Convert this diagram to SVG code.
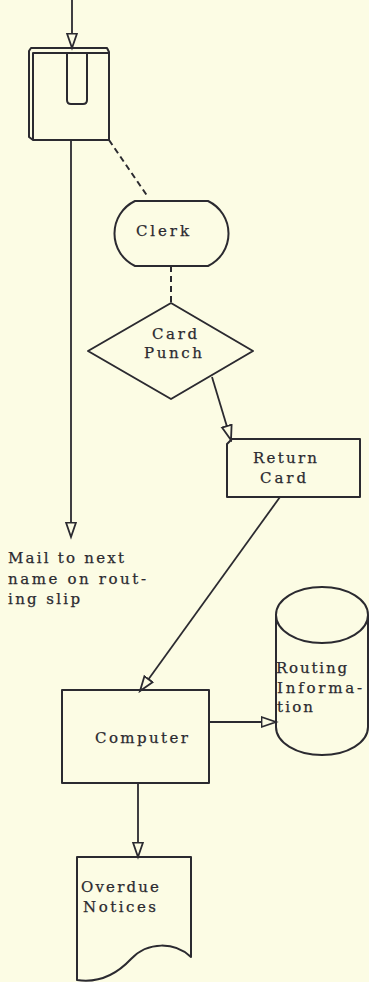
<svg xmlns="http://www.w3.org/2000/svg" width="369" height="982" viewBox="0 0 369 982">
  <style>
    .shape { fill: none; stroke: #2b2a30; stroke-width: 2; stroke-linejoin: round; }
    .line { fill: none; stroke: #2b2a30; stroke-width: 1.8; }
    .dash { fill: none; stroke: #2b2a30; stroke-width: 2; stroke-dasharray: 6 4; }
    .arrow { marker-end: url(#open); }
    text { font-family: "DejaVu Serif", "Liberation Serif", serif; font-size: 15px; fill: #2b2a30; stroke: #2b2a30; stroke-width: 0.25; }
  </style>
  <defs>
    <marker id="open" markerUnits="userSpaceOnUse" markerWidth="18" markerHeight="14" refX="15.5" refY="6" orient="auto">
      <path d="M1,1 L15.5,6 L1,11 Z" fill="#fcfce4" stroke="#2b2a30" stroke-width="1.8" stroke-linejoin="miter"/>
    </marker>
  </defs>
  <rect width="369" height="982" fill="#fcfce4"/>

  <g id="connectors">
    <path class="line arrow" d="M72,0 L72,48"/>
    <path class="line arrow" d="M71,140 L71,537"/>
    <path class="dash" d="M109,140 L148,197"/>
    <path class="dash" d="M171,266 L171,303"/>
    <path class="line arrow" d="M212,377 L231,440"/>
    <path class="line arrow" d="M280,497 L140,691"/>
    <path class="line arrow" d="M209,722 L276,722"/>
    <path class="line arrow" d="M138,783 L138,857"/>
  </g>

  <g id="card-reader">
    <path class="shape" d="M31,48 L107,48 L109,52 L109,140 L33,140 L29,137 L29,51 Z"/>
    <path class="shape" d="M33,140 L33,53 L109,53"/>
    <path class="shape" d="M67,53 V100 Q67,104 71,104 H83 Q87,104 87,100 V53"/>
  </g>

  <g id="mail-note">
    <text x="8" y="563" textLength="116">Mail to next</text>
    <text x="8" y="584" textLength="138">name on rout-</text>
    <text x="8" y="604" textLength="72">ing slip</text>
  </g>

  <g id="clerk">
    <path class="shape" d="M135,201 H208 A36,36 0 0 1 208,266 H135 A36,36 0 0 1 135,201 Z"/>
    <text x="136" y="236" textLength="53">Clerk</text>
  </g>

  <g id="card-punch">
    <path class="shape" d="M171,303 L253,351 L171,399 L88,351 Z"/>
    <text x="152" y="339" textLength="45">Card</text>
    <text x="144" y="358" textLength="58">Punch</text>
  </g>

  <g id="return-card">
    <path class="shape" d="M232,439 H360 V497 H227 V444 Z"/>
    <text x="253" y="463" textLength="64">Return</text>
    <text x="260" y="483" textLength="46">Card</text>
  </g>

  <g id="computer">
    <rect class="shape" x="62" y="690" width="147" height="93"/>
    <text x="95" y="743" textLength="93">Computer</text>
  </g>

  <g id="routing-information">
    <ellipse class="shape" cx="322" cy="615" rx="46" ry="28"/>
    <path class="shape" d="M276,615 V727 A46,28 0 0 0 368,727 V615"/>
    <text x="276" y="673" textLength="71">Routing</text>
    <text x="277" y="693" textLength="85">Informa-</text>
    <text x="277" y="712" textLength="36">tion</text>
  </g>

  <g id="overdue-notices">
    <path class="shape" d="M77,857 H191 V957 C175,942 148,941 131,959 C116,975 97,983 77,980 Z"/>
    <text x="81" y="892" textLength="78">Overdue</text>
    <text x="83" y="912" textLength="73">Notices</text>
  </g>
</svg>
